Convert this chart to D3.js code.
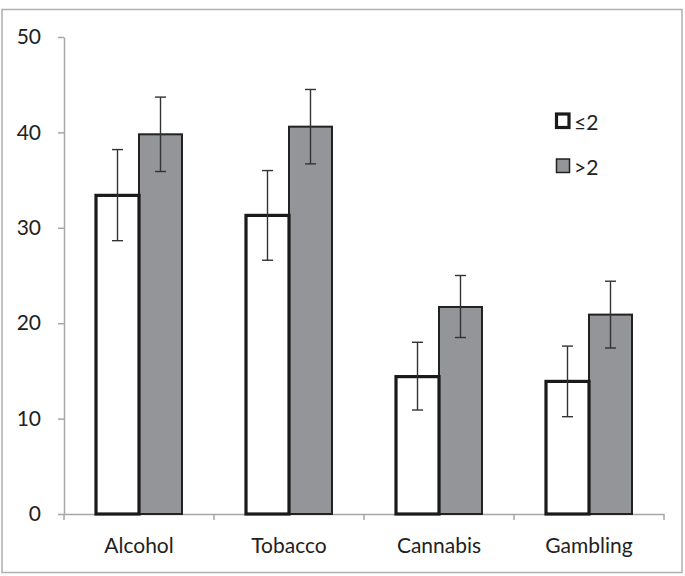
<!DOCTYPE html>
<html><head><meta charset="utf-8">
<script src="https://cdn.jsdelivr.net/npm/d3@7"></script>
<style>body{margin:0;background:#fff}svg{display:block}text{font-family:Lato,"Open Sans",sans-serif;fill:#222}</style>
</head><body>
<svg id="c" width="685" height="576"></svg>
<script>
const categories = ["Alcohol","Tobacco","Cannabis","Gambling"];
const seriesNames = ["≤2", ">2"];
const lowValues = [33.4, 31.3, 14.4, 13.9];
const lowErrLo = [28.65, 26.6, 10.9, 10.2];
const lowErrHi = [38.2, 36.0, 18.0, 17.6];
const highValues = [39.8, 40.6, 21.7, 20.9];
const highErrLo = [35.9, 36.7, 18.5, 17.4];
const highErrHi = [43.7, 44.5, 25.0, 24.4];
const yTicks = [0,10,20,30,40,50];

const svg = d3.select("#c");
svg.append("rect").attr("x",2).attr("y",9.5).attr("width",680).attr("height",563)
  .attr("fill","#fff").attr("stroke","#b0b0b0").attr("stroke-width",1.5);

const x0 = 64, x1 = 664, yTop = 37, yBot = 514;
const x = d3.scaleBand().domain(categories).range([x0,x1]).paddingInner(0).paddingOuter(0);
const y = d3.scaleLinear().domain([0,50]).range([yBot,yTop]);
const barW = 43;
const fs = 21;

// Y axis
const ya = svg.append("g").attr("transform",`translate(${x0},0)`)
  .call(d3.axisLeft(y).tickValues(yTicks).tickSize(6).tickPadding(17).tickSizeOuter(0));
ya.select(".domain").attr("stroke","#a6a6a6").attr("stroke-width",1.5);
ya.selectAll(".tick line").attr("stroke","#a6a6a6").attr("stroke-width",1.5);
ya.selectAll(".tick text").attr("font-size",fs).style("font-family","Lato,'Open Sans',sans-serif").attr("fill","#222");

// X axis
const xa = svg.append("g").attr("transform",`translate(0,${yBot})`)
  .call(d3.axisBottom(x).tickSize(0).tickPadding(24).tickSizeOuter(0));
xa.select(".domain").attr("stroke","#a6a6a6").attr("stroke-width",1.5);
xa.selectAll(".tick text").attr("font-size",fs).style("font-family","Lato,'Open Sans',sans-serif").attr("fill","#222");
const bounds = [x0].concat(categories.map(c => x(c) + x.bandwidth()));
svg.append("g").selectAll("line").data(bounds).join("line")
  .attr("x1",d=>d).attr("x2",d=>d).attr("y1",yBot).attr("y2",yBot+6)
  .attr("stroke","#a6a6a6").attr("stroke-width",1.5);

const cx = c => x(c) + x.bandwidth()/2;

// bars
const g = svg.append("g");
g.selectAll("rect.hi").data(categories).join("rect").attr("class","hi")
  .attr("x",c=>cx(c)).attr("width",barW)
  .attr("y",(c,i)=>y(highValues[i])).attr("height",(c,i)=>yBot - y(highValues[i]))
  .attr("fill","#939598").attr("stroke","#222").attr("stroke-width",2);
g.selectAll("rect.lo").data(categories).join("rect").attr("class","lo")
  .attr("x",c=>cx(c)-barW).attr("width",barW)
  .attr("y",(c,i)=>y(lowValues[i])).attr("height",(c,i)=>yBot - y(lowValues[i]))
  .attr("fill","#fff").attr("stroke","#1a1a1a").attr("stroke-width",3.2);

// error bars
function err(xc, lo, hi){
  const e = svg.append("g").attr("stroke","#333").attr("stroke-width",1.4);
  e.append("line").attr("x1",xc).attr("x2",xc).attr("y1",y(lo)).attr("y2",y(hi));
  e.append("line").attr("x1",xc-5.5).attr("x2",xc+5.5).attr("y1",y(lo)).attr("y2",y(lo));
  e.append("line").attr("x1",xc-5.5).attr("x2",xc+5.5).attr("y1",y(hi)).attr("y2",y(hi));
}
categories.forEach((c,i)=>{
  err(cx(c)-barW/2, lowErrLo[i], lowErrHi[i]);
  err(cx(c)+barW/2, highErrLo[i], highErrHi[i]);
});

// legend
const lg = svg.append("g");
lg.append("rect").attr("x",556.5).attr("y",114).attr("width",12.5).attr("height",13.5)
  .attr("fill","#fff").attr("stroke","#1a1a1a").attr("stroke-width",3.2);
lg.append("rect").attr("x",556.5).attr("y",159).attr("width",13).attr("height",13.5)
  .attr("fill","#939598").attr("stroke","#222").attr("stroke-width",1.5);
lg.append("text").attr("x",574).attr("y",129.5).attr("font-size",fs).text(seriesNames[0]);
lg.append("text").attr("x",574).attr("y",174.5).attr("font-size",fs).text(seriesNames[1]);
</script>
</body></html>
